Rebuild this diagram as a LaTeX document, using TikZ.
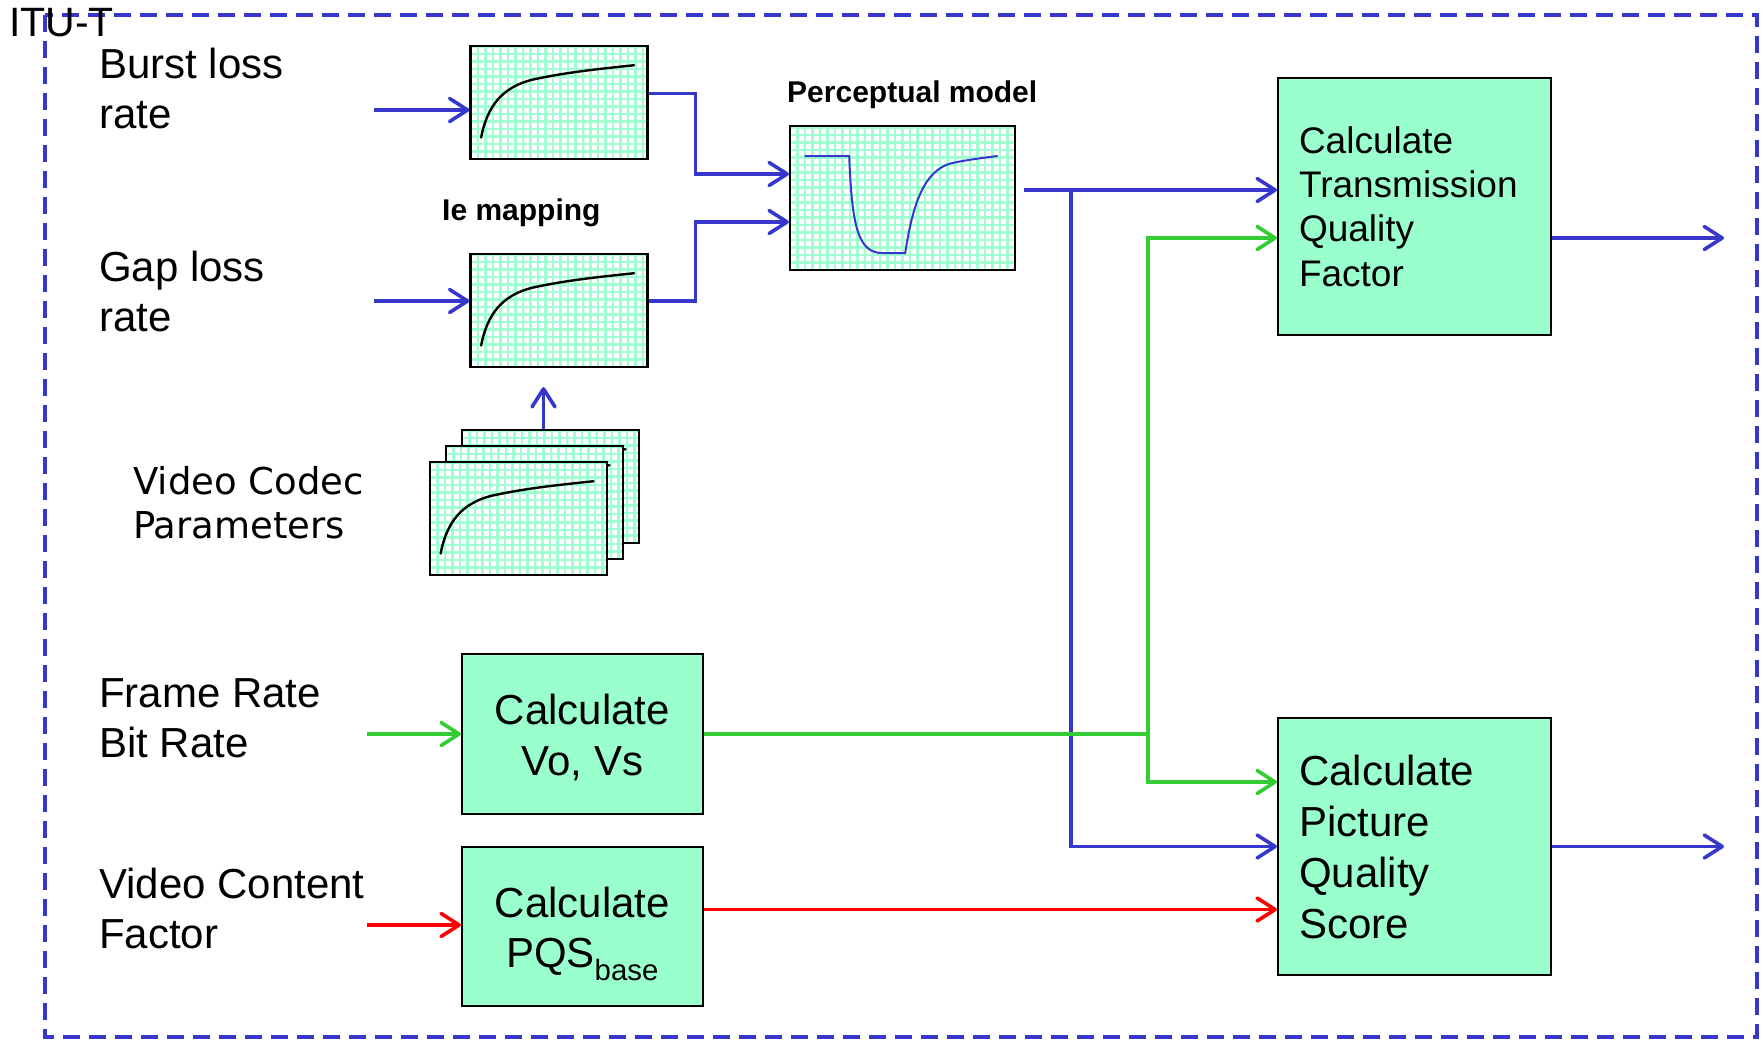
\documentclass[tikz,border=0pt]{standalone}
\usepackage{fontspec}
\setmainfont{Liberation Sans}
\newfontfamily\codecfont{DejaVu Sans}
\usetikzlibrary{arrows.meta}

\definecolor{linkblue}{RGB}{55,55,205}
\definecolor{linkgreen}{RGB}{51,204,51}
\definecolor{linkred}{RGB}{255,0,0}
\definecolor{boxfill}{RGB}{153,255,204}
\definecolor{gridmint}{RGB}{160,255,208}

\tikzset{
  barb/.style={-{Straight Barb[length=18pt,width=23pt,round]}},
  bconn/.style={linkblue, line width=3.6pt, barb},
  gconn/.style={linkgreen, line width=3.6pt, barb},
  gline/.style={linkgreen, line width=3.6pt},
  rconn/.style={linkred, line width=3.6pt, barb},
  calcbox/.style={draw=black, line width=2.2pt, fill=boxfill, inner sep=0pt},
  lbl/.style={font=\fontsize{42pt}{50pt}\selectfont, align=left, inner sep=0pt, anchor=base west},
  caption/.style={font=\bfseries\fontsize{30pt}{36pt}\selectfont, inner sep=0pt, anchor=base west},
  gridcard/.style={draw=black, line width=2.2pt, fill=white, inner sep=0pt,
    path picture={
      \foreach \k in {0,...,31}{
        \draw[gridmint, line width=2.5pt]
          ([xshift=\k*7.5pt]path picture bounding box.south west) --
          ([xshift=\k*7.5pt]path picture bounding box.north west);
      }
      \foreach \k in {0,...,20}{
        \draw[gridmint, line width=2.5pt]
          ([yshift=\k*7.5pt]path picture bounding box.south west) --
          ([yshift=\k*7.5pt]path picture bounding box.south east);
      }
    }},
  card/.style={gridcard, minimum width=177pt, minimum height=113pt}
}

% saturating response curve drawn inside a grid card
\newcommand\satcurve[1]{%
  \begin{scope}[shift={(#1.north west)}, x=177pt, y=-113pt]
    \draw[black, line width=2.4pt, line cap=round]
      (0.066,0.82) .. controls (0.10,0.55) and (0.18,0.38) .. (0.35,0.31)
      .. controls (0.55,0.24) and (0.75,0.21) .. (0.93,0.18);
  \end{scope}}

% two centred lines, with extra head room so they sit a little low in their block
\newcommand\twolines[2]{\begin{tabular}{@{}c@{}}\rule{0pt}{47.5pt}#1\\#2\end{tabular}}

\begin{document}
\begin{tikzpicture}[x=1pt,y=-1pt]
\useasboundingbox (0,0) rectangle (1763,1040);

% outer dashed frame
\draw[linkblue, line width=3.6pt, dash pattern=on 17pt off 9pt] (45,15) rectangle (1757,1037);
\node[font=\fontsize{41pt}{48pt}\selectfont, inner sep=0pt, anchor=base west] (itu) at (9,37) {ITU-T};

% input labels (anchored at the baseline of their last line)
\node[lbl] (burst) at (99,129) {Burst loss\\rate};
\node[lbl] (gap) at (99,331.5) {Gap loss\\rate};
\node[lbl] (frame) at (99,757.2) {Frame Rate\\Bit Rate};
\node[lbl] (content) at (99,948.3) {Video Content\\Factor};
\node[font=\codecfont\fontsize{37pt}{44pt}\selectfont, align=left, inner sep=0pt, anchor=base west]
  (codeclbl) at (133,538) {Video Codec\\Parameters};

% mapping cards
\node[card] (map1) at (559,102.5) {};
\satcurve{map1}
\node[card] (map2) at (559,310.5) {};
\satcurve{map2}
\node[caption] (maplbl) at (442,221) {Ie mapping};

% stack of codec parameter cards
\node[card] (codecC) at (550.5,486.5) {};
\satcurve{codecC}
\node[card] (codecB) at (534.5,502.5) {};
\satcurve{codecB}
\node[card] (codecA) at (518.5,518.5) {};
\satcurve{codecA}

% perceptual model
\node[gridcard, minimum width=225pt, minimum height=144pt] (percep) at (902.5,198) {};
\begin{scope}[shift={(percep.north west)}, x=225pt, y=-144pt]
  \draw[linkblue, line width=2pt]
    (0.07,0.216) -- (0.268,0.216)
    .. controls (0.28,0.72) and (0.31,0.89) .. (0.417,0.89) -- (0.517,0.89)
    .. controls (0.55,0.55) and (0.60,0.32) .. (0.72,0.267)
    .. controls (0.80,0.24) and (0.86,0.23) .. (0.928,0.216);
\end{scope}
\node[caption] (perlbl) at (787,103) {Perceptual model};

% calculation blocks
\node[calcbox, minimum width=241pt, minimum height=160pt,
  font=\fontsize{42pt}{50.5pt}\selectfont] (vov) at (582.5,734) {\twolines{Calculate}{Vo, Vs}};
\node[calcbox, minimum width=241pt, minimum height=159pt,
  font=\fontsize{42pt}{50.5pt}\selectfont] (pqsb) at (582.5,926.5) {\twolines{Calculate}{PQS\textsubscript{base}}};
\node[calcbox, minimum width=273pt, minimum height=257pt, text width=231pt, align=left,
  font=\fontsize{37pt}{44.3pt}\selectfont] (tqf) at (1414.5,206.5) {Calculate\\Transmission\\Quality\\Factor};
\node[calcbox, minimum width=273pt, minimum height=257pt, text width=231pt, align=left,
  font=\fontsize{42pt}{51pt}\selectfont] (pqs) at (1414.5,846.5) {Calculate\\Picture\\Quality\\Score};

% free ends
\coordinate (inBurst) at (374,110);
\coordinate (inGap) at (374,301);
\coordinate (inRate) at (367,734);
\coordinate (inContent) at (367,925);
\coordinate (outTQF) at (1724,238);
\coordinate (outPQS) at (1724,846.5);

% blue signal path
\draw[bconn] (inBurst) -- (inBurst -| map1.west);
\draw[bconn] (inGap) -- (inGap -| map2.west);
\draw[bconn] ([yshift=9pt]map1.east) -- ++(47pt,0) |- ([yshift=24pt]percep.west);
\draw[bconn] ([yshift=9.5pt]map2.east) -- ++(47pt,0) |- ([yshift=-24pt]percep.west);
\draw[bconn, shorten >=19pt] ([xshift=-7pt]codecC.north) -- ([xshift=-7pt]codecC.north |- map2.south);
\draw[bconn, shorten <=8pt] ([yshift=8pt]percep.east) -- ([yshift=8pt]percep.east -| tqf.west);
\draw[bconn] ([yshift=8pt]percep.east) ++(55pt,0) |- (pqs.west);
\draw[bconn] ([yshift=-31.5pt]tqf.east) -- (outTQF);
\draw[bconn] (pqs.east) -- (outPQS);

% green rate path
\draw[gconn] (inRate) -- (vov.west);
\draw[gline] (vov.east) -- ++(444pt,0) coordinate (gj);
\draw[gconn] (gj) |- ([yshift=-31.5pt]tqf.west);
\draw[gconn] (gj) |- ([yshift=64.5pt]pqs.west);

% red content path
\draw[rconn] (inContent) -- (inContent -| pqsb.west);
\draw[rconn] ([yshift=17pt]pqsb.east) -- ([yshift=17pt]pqsb.east -| pqs.west);
\end{tikzpicture}
\end{document}
